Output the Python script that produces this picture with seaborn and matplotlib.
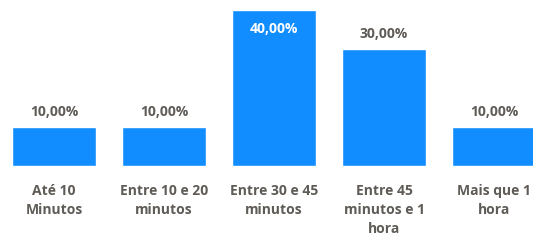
import matplotlib
matplotlib.use("Agg")
import matplotlib.pyplot as plt
import seaborn as sns
import pandas as pd

# data
categorias = ["Até 10\nMinutos", "Entre 10 e 20\nminutos", "Entre 30 e 45\nminutos",
              "Entre 45\nminutos e 1\nhora", "Mais que 1\nhora"]
percentuais = [0.10, 0.10, 0.40, 0.30, 0.10]

df = pd.DataFrame({"categoria": categorias, "pct": percentuais})

sns.set_theme(style="white")
plt.rcParams['font.family'] = ['Open Sans', 'DejaVu Sans']

cor_barra = "#118DFF"
cor_texto = "#5F5B57"

W, H = 533, 241
fig = plt.figure(figsize=(W / 100, H / 100), dpi=100)
ax = fig.add_axes([0, 75 / H, 1, 166 / H])

sns.barplot(data=df, x="categoria", y="pct", color=cor_barra, saturation=1,
            width=0.77, ax=ax)

ax.set_xlim(-54 / 110, (W - 54) / 110)
ax.set_ylim(0, 0.4 * 166 / 156)
ax.set_xlabel("")
ax.set_ylabel("")
ax.set_yticks([])
sns.despine(ax=ax, left=True, bottom=True)
ax.tick_params(axis="x", length=0, pad=13)
for lbl in ax.get_xticklabels():
    lbl.set_fontsize(10)
    lbl.set_fontweight("bold")
    lbl.set_color(cor_texto)
    lbl.set_linespacing(1.45)

top = max(percentuais)
for i, v in enumerate(percentuais):
    txt = f"{v * 100:.2f}%".replace(".", ",")
    if v == top:
        ax.annotate(txt, (i, v), xytext=(0, -14), textcoords="offset points",
                    ha="center", va="center", color="white", fontsize=10,
                    fontweight="bold")
    else:
        ax.annotate(txt, (i, v), xytext=(0, 11), textcoords="offset points",
                    ha="center", va="center", color=cor_texto, fontsize=10,
                    fontweight="bold")

fig.savefig("out.png", dpi=100)
